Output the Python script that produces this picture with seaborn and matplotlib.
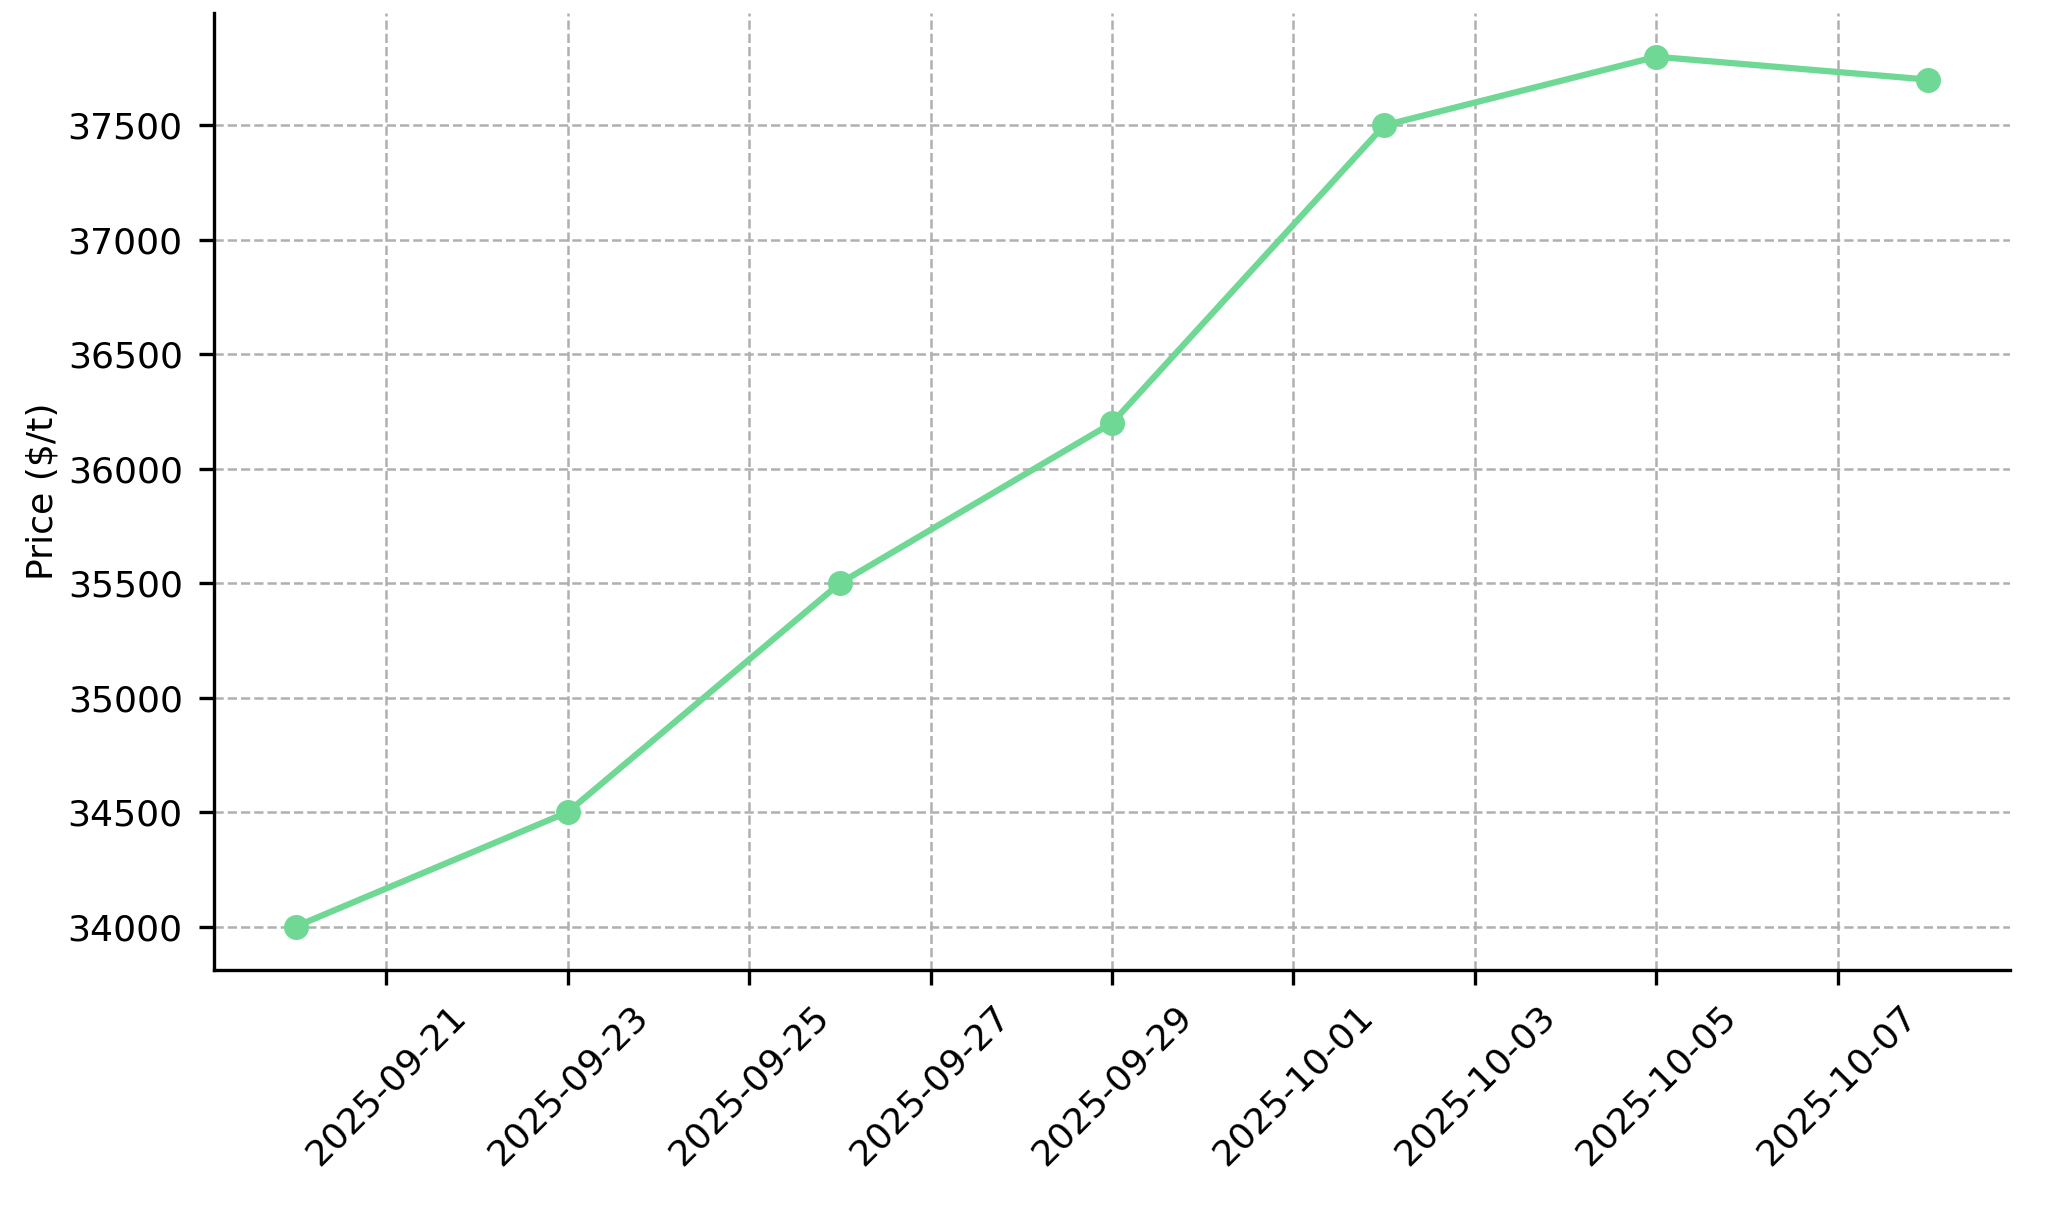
import matplotlib
matplotlib.use("Agg")
import matplotlib.pyplot as plt
import matplotlib.dates as mdates
import seaborn as sns
import pandas as pd

dates = ["2025-09-20", "2025-09-23", "2025-09-26", "2025-09-29",
         "2025-10-02", "2025-10-05", "2025-10-08"]
prices = [34000, 34500, 35500, 36200, 37500, 37800, 37700]

df = pd.DataFrame({"Date": pd.to_datetime(dates), "Price": prices})

sns.set_style("ticks")
plt.rcParams["font.family"] = ["DejaVu Sans"]

fig = plt.figure(figsize=(2048/300, 1205/300), dpi=300)
ax = fig.add_axes([0.1045, 0.195, 0.9765 - 0.1045 + 0.005, 0.989 - 0.195])

sns.lineplot(data=df, x="Date", y="Price", ax=ax, color="#6fd895",
             linewidth=1.5, marker="o", markersize=6, markeredgewidth=0)

ax.grid(True, linestyle="--", color="#b0b0b0", linewidth=0.6)
ax.set_axisbelow(True)
sns.despine(ax=ax)
for s in ["left", "bottom"]:
    ax.spines[s].set_color("black")
    ax.spines[s].set_linewidth(0.8)

ax.xaxis.set_major_locator(mdates.DayLocator(interval=2))
ax.xaxis.set_major_formatter(mdates.DateFormatter("%Y-%m-%d"))
ax.tick_params(axis="both", labelsize=8.7, colors="black", length=3.5, width=0.8)
ax.tick_params(axis="y", pad=4.0)
plt.setp(ax.get_xticklabels(), rotation=45, ha="center")

ax.set_xlabel("")
ax.set_ylabel("Price ($/t)", fontsize=8.7, color="black", labelpad=2.0)

fig.savefig("out.png", dpi=300)
